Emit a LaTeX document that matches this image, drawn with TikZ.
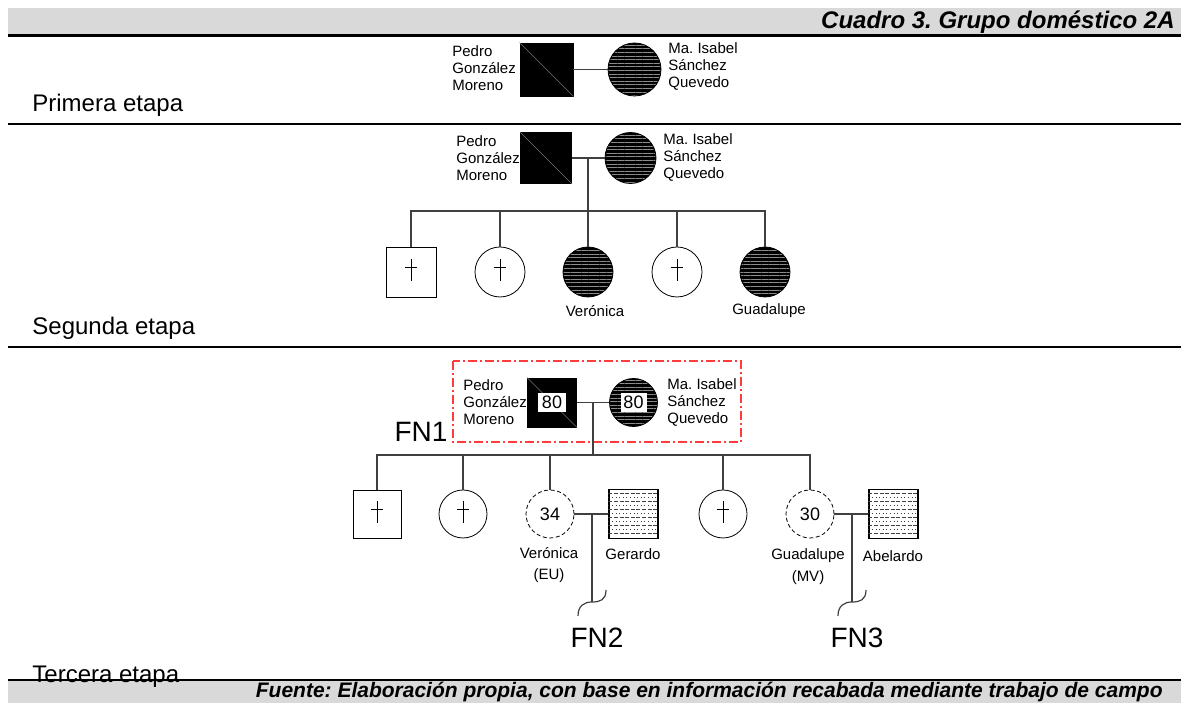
\documentclass[tikz,border=0pt]{standalone}
\usepackage{fontspec}
\setmainfont{Liberation Sans}
\usetikzlibrary{patterns.meta}
\frenchspacing

\definecolor{bandgray}{HTML}{D9D9D9}
\definecolor{linkgray}{HTML}{404040}
\definecolor{fnred}{HTML}{FF3B3B}

\tikzset{
  malebox/.style={draw, rectangle, inner sep=0pt, minimum size=#1},
  femcirc/.style={draw, circle, inner sep=0pt, minimum size=#1},
  hatched/.style={preaction={fill=black}, pattern={Lines[distance=1.8pt,line width=0.4pt]}, pattern color=black!45},
  absent/.style={dash pattern=on 2pt off 1.3pt},
  link/.style={draw=linkgray, line width=0.6pt},
  namelbl/.style={font=\fontsize{7.5}{8.5}\selectfont, align=left, anchor=west, inner sep=0pt},
  kidlbl/.style={font=\fontsize{7.5}{10.8}\selectfont, align=center, inner sep=0pt},
  stagelbl/.style={font=\fontsize{12}{14}\selectfont, anchor=west, inner sep=0pt},
  fnlbl/.style={font=\fontsize{14}{16}\selectfont, inner sep=0pt},
  agetxt/.style={font=\fontsize{9}{10}\selectfont},
  agebox/.style={fill=white, inner sep=0pt, minimum width=14pt, minimum height=9.5pt, font=\fontsize{9}{10}\selectfont},
  rowline/.style={draw=black!75, line width=0.35pt},
}

% small dagger inside a node
\newcommand{\deadmark}[1]{%
  \draw[line width=0.4pt] ([yshift=6.5pt]#1.center) -- ([yshift=-4.5pt]#1.center);
  \draw[line width=0.4pt] ([shift={(-3.2pt,2.5pt)}]#1.center) -- ([shift={(3.2pt,2.5pt)}]#1.center);}
% broken line towards a new family
\newcommand{\cutmark}[1]{%
  \draw[link] ([shift={(-7pt,-7pt)}]#1) .. controls ([shift={(-7pt,-2pt)}]#1) and ([shift={(-4pt,0pt)}]#1) .. (#1)
    .. controls ([shift={(4pt,0pt)}]#1) and ([shift={(7pt,1pt)}]#1) .. ([shift={(7pt,6pt)}]#1);}

\begin{document}
\begin{tikzpicture}[x=0.5pt,y=-0.5pt]
  \useasboundingbox (0,0) rectangle (1185,704);

  % header and footer bands
  \fill[bandgray] (8,8) rectangle (1181,36);
  \draw[line width=1.5pt] (8,36) -- (1181,36);
  \node[anchor=east, inner sep=0pt, font=\fontsize{12}{14}\selectfont\bfseries\itshape] (title) at (1175,22) {Cuadro 3. Grupo doméstico 2A};
  \fill[bandgray] (8,680) rectangle (1181,703);
  \node[anchor=east, inner sep=0pt, font=\fontsize{10.5}{12}\selectfont\bfseries\itshape] (source) at (1163,692) {Fuente: Elaboración propia, con base en información recabada mediante trabajo de campo};

  % stage separators
  \draw[line width=1pt] (8,124) -- (1181,124);
  \draw[line width=1pt] (8,347) -- (1181,347);
  \node[stagelbl] (st1) at (32,105) {Primera etapa};
  \node[stagelbl] (st2) at (32,328) {Segunda etapa};
  \node[stagelbl] (st3) at (32,677) {Tercera etapa};
  \draw[line width=1pt] (8,680) -- (1181,680);

  % first stage
  \node[malebox=26.5pt, fill=black] (pedro1) at (546.5,69.5) {};
  \draw[black!55, line width=0.3pt] (pedro1.north west) -- (pedro1.south east);
  \node[femcirc=26.5pt, hatched] (isabel1) at (634.5,69.5) {};
  \draw[link] (pedro1) -- (isabel1);
  \node[namelbl] (pedro1lbl) at (452,68) {Pedro\\González\\Moreno};
  \node[namelbl] (isabel1lbl) at (668,66.5) {Ma. Isabel\\Sánchez\\Quevedo};

  % second stage
  \node[malebox=25.5pt, fill=black] (pedro2) at (546,158) {};
  \draw[black!55, line width=0.3pt] (pedro2.north west) -- (pedro2.south east);
  \node[femcirc=25.5pt, hatched] (isabel2) at (630.5,158) {};
  \draw[link] (pedro2) -- (isabel2);
  \node[namelbl] (pedro2lbl) at (456,158) {Pedro\\González\\Moreno};
  \node[namelbl] (isabel2lbl) at (663,157) {Ma. Isabel\\Sánchez\\Quevedo};
  \coordinate (m2) at (588,158);
  \coordinate (s2) at (588,211);
  \draw[link] (m2) -- (s2);

  \node[malebox=25pt] (k21) at (411,272) {};
  \node[femcirc=25pt] (k22) at (500,272) {};
  \node[femcirc=25pt, hatched] (k23) at (588,272) {};
  \node[femcirc=25pt] (k24) at (677,272) {};
  \node[femcirc=25pt, hatched] (k25) at (765,272) {};
  \foreach \k in {k21,k22,k24} {\deadmark{\k}}
  \foreach \k in {k21,k22,k23,k24,k25} \draw[link] (\k.north) |- (s2);
  \node[kidlbl] (k23lbl) at (595,311) {Verónica};
  \node[kidlbl] (k25lbl) at (769,311) {Guadalupe};

  % third stage
  \draw[fnred, line width=0.6pt, dash pattern=on 4.5pt off 1.5pt on 1pt off 1.5pt] (453,361) rectangle (741,442);
  \node[fnlbl] (fn1) at (421,432) {FN1};
  \node[malebox=24.5pt, fill=black] (pedro3) at (552,402.5) {};
  \draw[black!55, line width=0.3pt] (pedro3.north west) -- (pedro3.south east);
  \node[femcirc=24pt, hatched] (isabel3) at (633.5,402.5) {};
  \node[agebox] (pedro3age) at (pedro3) {80};
  \node[agebox, minimum width=13pt] (isabel3age) at (isabel3) {80};
  \draw[link] (pedro3) -- (isabel3);
  \node[namelbl] (pedro3lbl) at (463,402) {Pedro\\González\\Moreno};
  \node[namelbl] (isabel3lbl) at (667,402) {Ma. Isabel\\Sánchez\\Quevedo};
  \coordinate (m3) at (593,402.5);
  \coordinate (s3) at (593,455);
  \draw[link] (m3) -- (s3);

  \node[malebox=24pt] (k31) at (377,514) {};
  \node[femcirc=24pt] (k32) at (463,514) {};
  \node[femcirc=24pt, absent, agetxt] (vero3) at (550,514) {34};
  \node[femcirc=24pt] (k34) at (723,514) {};
  \node[femcirc=24pt, absent, agetxt] (guada3) at (810,514) {30};
  \foreach \k in {k31,k32,k34} {\deadmark{\k}}
  \foreach \k in {k31,k32,vero3,k34,guada3} \draw[link] (\k.north) |- (s3);

  % spouses
  \node[malebox=24.5pt, line width=0.6pt] (gerardo) at (633.5,514) {};
  \node[malebox=24.5pt, line width=0.6pt] (abelardo) at (893.5,514) {};
  \foreach \n in {gerardo,abelardo} {
    \begin{scope}
      \clip (\n.north west) rectangle (\n.south east);
      \foreach \r in {1,3,...,11}
        \draw[rowline, dash pattern=on 2pt off 0.8pt] ([yshift=-\r*2pt]\n.north west) -- ([yshift=-\r*2pt]\n.north east);
      \foreach \r in {2,4,...,10}
        \draw[rowline, dash pattern=on 0.4pt off 1.4pt] ([yshift=-\r*2pt]\n.north west) -- ([yshift=-\r*2pt]\n.north east);
    \end{scope}
  }
  \draw[link] (vero3) -- (gerardo);
  \draw[link] (guada3) -- (abelardo);
  \coordinate (m4) at (592,514);
  \coordinate (e4) at (592,602);
  \coordinate (m5) at (852,514);
  \coordinate (e5) at (852,602);
  \draw[link] (m4) -- (e4);
  \draw[link] (m5) -- (e5);
  \cutmark{e4}
  \cutmark{e5}

  \node[kidlbl] (vero3lbl) at (549,565) {Verónica\\(EU)};
  \node[kidlbl] (gerardolbl) at (633,554) {Gerardo};
  \node[kidlbl] (guada3lbl) at (808,566.5) {Guadalupe\\(MV)};
  \node[kidlbl] (abelardolbl) at (893,556) {Abelardo};
  \node[fnlbl] (fn2) at (597,638) {FN2};
  \node[fnlbl] (fn3) at (857,638) {FN3};
\end{tikzpicture}
\end{document}
